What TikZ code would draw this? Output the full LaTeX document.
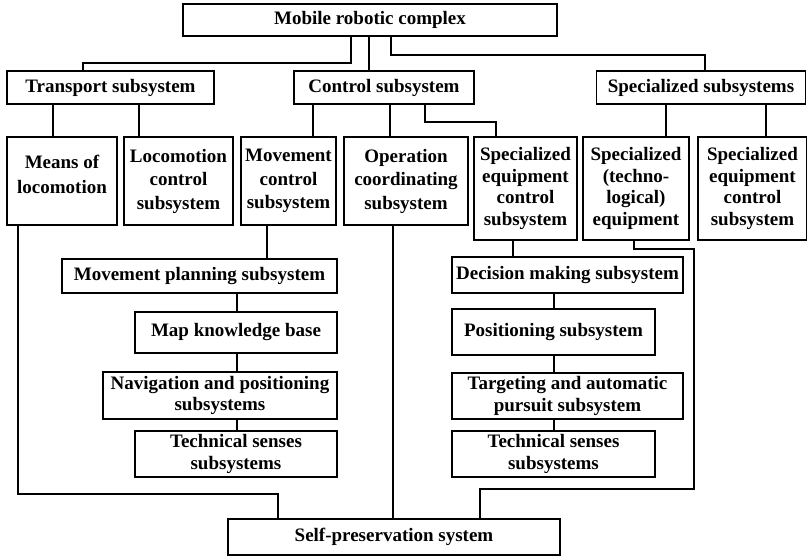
\documentclass[tikz,border=0pt]{standalone}
\usepackage{fontspec}
\setmainfont{Liberation Serif}
\begin{document}
\begin{tikzpicture}[x=1pt,y=-1pt,
  box/.style={draw, line width=1.6pt, inner sep=0pt, align=center,
    font=\fontsize{19}{21.5}\selectfont\bfseries},
  conn/.style={line width=1.3pt}]
\useasboundingbox (0,0) rectangle (807,557);
% row 0
\node[box, minimum width=374pt, minimum height=32pt] (top) at (370,20) {Mobile robotic complex};
% row 1
\node[box, minimum width=207pt, minimum height=33pt] (trans) at (110.5,87.5) {Transport subsystem};
\node[box, minimum width=180pt, minimum height=33pt] (ctrl) at (384,87.5) {Control subsystem};
\node[box, minimum width=209pt, minimum height=33pt] (spec) at (701,87.5) {Specialized subsystems};
% row 2
\node[box, minimum width=110pt, minimum height=88pt] (means) at (62,181) {Means of\\[3pt]locomotion\\[-8pt]};
\node[box, minimum width=109pt, minimum height=88pt] (loco) at (178.5,181) {Locomotion\\[2pt]control\\[2pt]subsystem};
\node[box, minimum width=95pt, minimum height=88pt] (movc) at (288.5,181) {Movement\\[2pt]control\\[2pt]subsystem};
\node[box, minimum width=124pt, minimum height=88pt] (opc) at (406,181) {Operation\\[2pt]coordinating\\[2pt]subsystem};
\node[box, minimum width=103pt, minimum height=103pt] (sec1) at (525.5,188.5) {Specialized\\equipment\\control\\subsystem};
\node[box, minimum width=106pt, minimum height=103pt] (techeq) at (636,188.5) {Specialized\\(techno-\\logical)\\equipment};
\node[box, minimum width=109pt, minimum height=103pt] (sec2) at (752.5,188.5) {Specialized\\equipment\\control\\subsystem};
% left column
\node[box, minimum width=275pt, minimum height=34pt] (mps) at (199.5,276) {Movement planning subsystem};
\node[box, minimum width=202pt, minimum height=41pt] (mkb) at (236,332.5) {Map knowledge base};
\node[box, minimum width=234pt, minimum height=47pt] (nav) at (220,395.5) {Navigation and positioning\\subsystems};
\node[box, minimum width=202pt, minimum height=46pt] (ts1) at (236,454) {Technical senses\\subsystems};
% right column
\node[box, minimum width=231pt, minimum height=36pt] (dms) at (567.5,275) {Decision making subsystem};
\node[box, minimum width=203pt, minimum height=46pt] (pos) at (553.5,332) {Positioning subsystem};
\node[box, minimum width=231pt, minimum height=46pt] (tgt) at (567.5,396) {Targeting and automatic\\pursuit subsystem};
\node[box, minimum width=203pt, minimum height=46pt] (ts2) at (553.5,454) {Technical senses\\subsystems};
% bottom
\node[box, minimum width=332pt, minimum height=36pt] (sp) at (394,537) {Self-preservation system};
% connectors
\draw[conn] (top.south -| 351,0) |- (83,63) -- (trans.north -| 83,0);
\draw[conn] (top.south -| 369,0) -- (ctrl.north -| 369,0);
\draw[conn] (top.south -| 391,0) |- (705,55) -- (spec.north -| 705,0);
\draw[conn] (trans.south -| 53,0) -- (means.north -| 53,0);
\draw[conn] (trans.south -| 139,0) -- (loco.north -| 139,0);
\draw[conn] (ctrl.south -| 313,0) -- (movc.north -| 313,0);
\draw[conn] (ctrl.south -| 390,0) -- (opc.north -| 390,0);
\draw[conn] (ctrl.south -| 425,0) |- (496,122) -- (sec1.north -| 496,0);
\draw[conn] (spec.south -| 666,0) -- (techeq.north -| 666,0);
\draw[conn] (spec.south -| 766,0) -- (sec2.north -| 766,0);
\draw[conn] (movc.south -| 267,0) -- (mps.north -| 267,0);
\draw[conn] (mps.south -| 237,0) -- (mkb.north -| 237,0);
\draw[conn] (mkb.south -| 237,0) -- (nav.north -| 237,0);
\draw[conn] (nav.south -| 237,0) -- (ts1.north -| 237,0);
\draw[conn] (sec1.south -| 513,0) -- (dms.north -| 513,0);
\draw[conn] (dms.south -| 554,0) -- (pos.north -| 554,0);
\draw[conn] (pos.south -| 554,0) -- (tgt.north -| 554,0);
\draw[conn] (tgt.south -| 554,0) -- (ts2.north -| 554,0);
\draw[conn] (means.south -| 18,0) |- (278,494) -- (sp.north -| 278,0);
\draw[conn] (opc.south -| 393,0) -- (sp.north -| 393,0);
\draw[conn] (techeq.south -| 634,0) |- (694,249) |- (480,489) -- (sp.north -| 480,0);
\end{tikzpicture}
\end{document}
